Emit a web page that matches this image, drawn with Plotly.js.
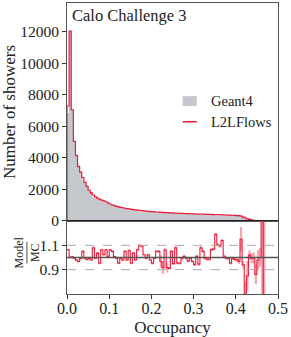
<!DOCTYPE html>
<html><head><meta charset="utf-8">
<script src="https://cdn.plot.ly/plotly-3.0.1.min.js"></script>
<style>html,body{margin:0;padding:0;background:#fff}#chart{width:291px;height:337px}</style>
</head><body><div id="chart"></div>
<script>
// bin edges: 100 bins of width 0.005 from 0 to 0.5
const binWidth = 0.005;
const nBins = 100;

const geant4 = [6860,12050,7010,5080,4240,3570,3120,2620,2460,2240,
 1960,1820,1530,1550,1400,1450,1250,1250,1150,1140,
 1015,970,960,935,945,875,860,770,805,730,
 775,695,715,645,610,600,625,630,595,610,
 620,585,545,535,570,595,505,570,565,485,
 525,460,515,510,485,470,475,480,465,470,
 480,440,465,405,410,430,430,425,390,385,
 340,360,360,340,380,380,375,390,365,360,
 350,345,275,265,300,160,100,70,45,32,
 15,9,5,1.5,0,0,0,0,0,0];

const l2lflows = [7300,12050,7050,5050,4150,3450,3100,2750,2450,2200,
 1950,1780,1650,1540,1450,1380,1330,1280,1220,1150,
 1080,1020,970,930,900,870,840,810,790,770,
 740,720,700,685,670,655,640,625,610,600,
 590,580,570,560,550,545,535,525,515,510,
 500,495,490,485,480,475,470,465,460,455,
 450,445,440,435,430,428,425,420,415,410,
 405,400,395,390,385,380,375,370,365,355,
 345,335,310,250,190,140,100,70,45,28,
 15,8,4,1,0,0,0,0,0,0];

const ratio = [1.064,1.0,1.005,0.994,0.978,0.967,0.994,1.05,0.994,0.983,
 0.994,0.98,1.08,0.994,1.036,0.953,1.064,1.022,1.064,1.008,
 1.064,1.05,1.008,0.994,0.953,0.994,0.98,1.05,0.98,1.058,
 0.953,1.036,0.98,1.064,1.1,1.092,1.022,0.994,1.022,0.98,
 0.953,0.994,1.05,1.05,0.967,0.917,1.064,0.917,0.911,1.05,
 0.95,1.08,0.953,0.953,0.994,1.01,0.994,0.97,0.994,0.967,
 0.94,1.01,0.945,1.08,1.05,0.994,0.985,0.985,1.065,1.07,
 1.19,1.105,1.095,1.14,1.01,0.994,0.994,0.953,0.994,0.983,
 0.983,0.967,1.15,0.94,0.6,0.85,1.02,0.994,0.994,0.86,
 0.98,1.0,2.0,0.3];

const ratioErr = [0.008,0.008,0.008,0.008,0.008,0.008,0.008,0.008,0.008,0.008,
 0.008,0.008,0.008,0.008,0.008,0.008,0.008,0.008,0.008,0.008,
 0.008,0.008,0.008,0.008,0.008,0.008,0.008,0.008,0.008,0.008,
 0.008,0.008,0.008,0.008,0.008,0.008,0.008,0.008,0.008,0.008,
 0.01,0.01,0.01,0.01,0.05,0.05,0.01,0.04,0.01,0.01,
 0.01,0.01,0.01,0.01,0.01,0.01,0.01,0.01,0.01,0.01,
 0.012,0.012,0.012,0.012,0.012,0.012,0.012,0.012,0.012,0.012,
 0.012,0.012,0.012,0.012,0.012,0.012,0.012,0.012,0.012,0.012,
 0.02,0.02,0.1,0.03,0.2,0.12,0.04,0.04,0.05,0.08,
 0.08,0.08,2.0,2.0];

const yTicks = [0,2000,4000,6000,8000,10000,12000];
const xTicks = [0,0.1,0.2,0.3,0.4,0.5];
const xTickText = ['0.0','0.1','0.2','0.3','0.4','0.5'];
const rTicks = [0.9,1.1];
const rTickText = ['0.9','1.1'];

const edges = Array.from({length:nBins+1},(_,i)=>+(i*binWidth).toFixed(4));

function histStep(vals){
  return {x:[0].concat(edges), y:[0].concat(vals,[0])};
}
function stepN(vals){
  const n = vals.length;
  return {x:edges.slice(0,n+1), y:vals.concat([vals[n-1]])};
}

const G = histStep(geant4), L = histStep(l2lflows);
const rUp = stepN(ratio.map((r,i)=>r+ratioErr[i]));
const rLo = stepN(ratio.map((r,i)=>r-ratioErr[i]));
const R = stepN(ratio);

const GRAY = 'rgb(197,201,205)';
const RED = 'rgb(232,28,58)';
const FONT = 'Liberation Serif, Times New Roman, serif';

const traces = [
 {x:G.x,y:G.y,type:'scatter',mode:'lines',line:{shape:'hv',width:0,color:GRAY},fill:'tozeroy',fillcolor:GRAY,xaxis:'x',yaxis:'y',hoverinfo:'skip',showlegend:false},
 {x:L.x,y:L.y,type:'scatter',mode:'lines',line:{shape:'hv',width:1.2,color:RED},xaxis:'x',yaxis:'y',hoverinfo:'skip',showlegend:false},
 {x:rLo.x,y:rLo.y,type:'scatter',mode:'lines',line:{shape:'hv',width:0,color:RED},xaxis:'x2',yaxis:'y2',hoverinfo:'skip',showlegend:false},
 {x:rUp.x,y:rUp.y,type:'scatter',mode:'lines',line:{shape:'hv',width:0,color:RED},fill:'tonexty',fillcolor:'rgba(232,28,58,0.4)',xaxis:'x2',yaxis:'y2',hoverinfo:'skip',showlegend:false},
 {x:R.x,y:R.y,type:'scatter',mode:'lines',line:{shape:'hv',width:1.1,color:RED},xaxis:'x2',yaxis:'y2',hoverinfo:'skip',showlegend:false}
];

const split = 0.2509;
const FRAME = '#555';
const layout = {
 width:291,height:337,
 margin:{l:67,r:13,t:3,b:43},
 paper_bgcolor:'#fff',plot_bgcolor:'#fff',
 font:{family:FONT,color:'#222',size:15},
 showlegend:false,
 xaxis:{domain:[0,1],range:[0,0.5],anchor:'y',showticklabels:false,ticks:'',showgrid:false,zeroline:false,showline:true,mirror:true,linecolor:FRAME,linewidth:1,fixedrange:true},
 yaxis:{domain:[split,1],range:[0,13840],anchor:'x',tickvals:yTicks,ticktext:yTicks.map(String),ticks:'outside',ticklen:4,tickcolor:'#333',tickfont:{size:15.5,family:FONT,color:'#222'},showgrid:false,zeroline:false,showline:true,mirror:true,linecolor:FRAME,linewidth:1,
   title:{text:'Number of showers',font:{size:17,family:FONT,color:'#222'},standoff:6}},
 xaxis2:{domain:[0,1],range:[0,0.5],anchor:'y2',tickvals:xTicks,ticktext:xTickText,ticks:'outside',ticklen:3.5,tickcolor:'#333',ticklabelstandoff:-4,tickfont:{size:16,family:FONT,color:'#222'},showgrid:false,zeroline:false,showline:true,mirror:true,linecolor:FRAME,linewidth:1,
   title:{text:'Occupancy',font:{size:17,family:FONT,color:'#222'},standoff:7}},
 yaxis2:{domain:[0,split],range:[0.7,1.3],anchor:'x2',tickvals:rTicks,ticktext:rTickText,ticks:'outside',ticklen:4,tickcolor:'#333',tickfont:{size:15.5,family:FONT,color:'#222'},showgrid:false,zeroline:false,showline:true,mirror:true,linecolor:FRAME,linewidth:1},
 shapes:[
  {type:'line',xref:'x2 domain',yref:'y2',x0:0,x1:1,y0:1.1,y1:1.1,line:{color:'#aaa',width:1,dash:'dash'}},
  {type:'line',xref:'x2 domain',yref:'y2',x0:0,x1:1,y0:0.9,y1:0.9,line:{color:'#aaa',width:1,dash:'dash'}},
  {type:'line',xref:'x2 domain',yref:'y2',x0:0,x1:1,y0:1.0,y1:1.0,line:{color:'#555',width:1.5}},
  {type:'line',xref:'x domain',yref:'y',x0:0,x1:1,y0:0,y1:0,line:{color:'#111',width:1.5}},
  // manual legend
  {type:'rect',xref:'paper',yref:'paper',x0:0.548,x1:0.615,y0:0.646,y1:0.680,fillcolor:GRAY,line:{width:0}},
  {type:'line',xref:'paper',yref:'paper',x0:0.548,x1:0.615,y0:0.592,y1:0.592,line:{color:RED,width:1.5}},
  // fraction bar
  {type:'line',xref:'paper',yref:'paper',x0:-0.19,x1:-0.19,y0:0.105,y1:0.180,line:{color:'#222',width:0.8}}
 ],
 annotations:[
  {text:'Calo Challenge 3',xref:'paper',yref:'paper',x:0,y:1,xanchor:'left',yanchor:'top',xshift:3,yshift:-1,showarrow:false,font:{size:16.5,family:FONT,color:'#222'}},
  {text:'Geant4',xref:'paper',yref:'paper',x:0.673,y:0.663,xanchor:'left',yanchor:'middle',showarrow:false,font:{size:14.5,family:FONT,color:'#222'}},
  {text:'L2LFlows',xref:'paper',yref:'paper',x:0.673,y:0.592,xanchor:'left',yanchor:'middle',showarrow:false,font:{size:14.5,family:FONT,color:'#222'}},
  {text:'Model<br>MC',xref:'paper',yref:'paper',x:-0.19,y:0.1425,xanchor:'center',yanchor:'middle',align:'center',textangle:-90,showarrow:false,font:{size:12,family:FONT,color:'#222'}}
 ]
};

Plotly.newPlot('chart',traces,layout,{staticPlot:true,displayModeBar:false});
</script></body></html>
